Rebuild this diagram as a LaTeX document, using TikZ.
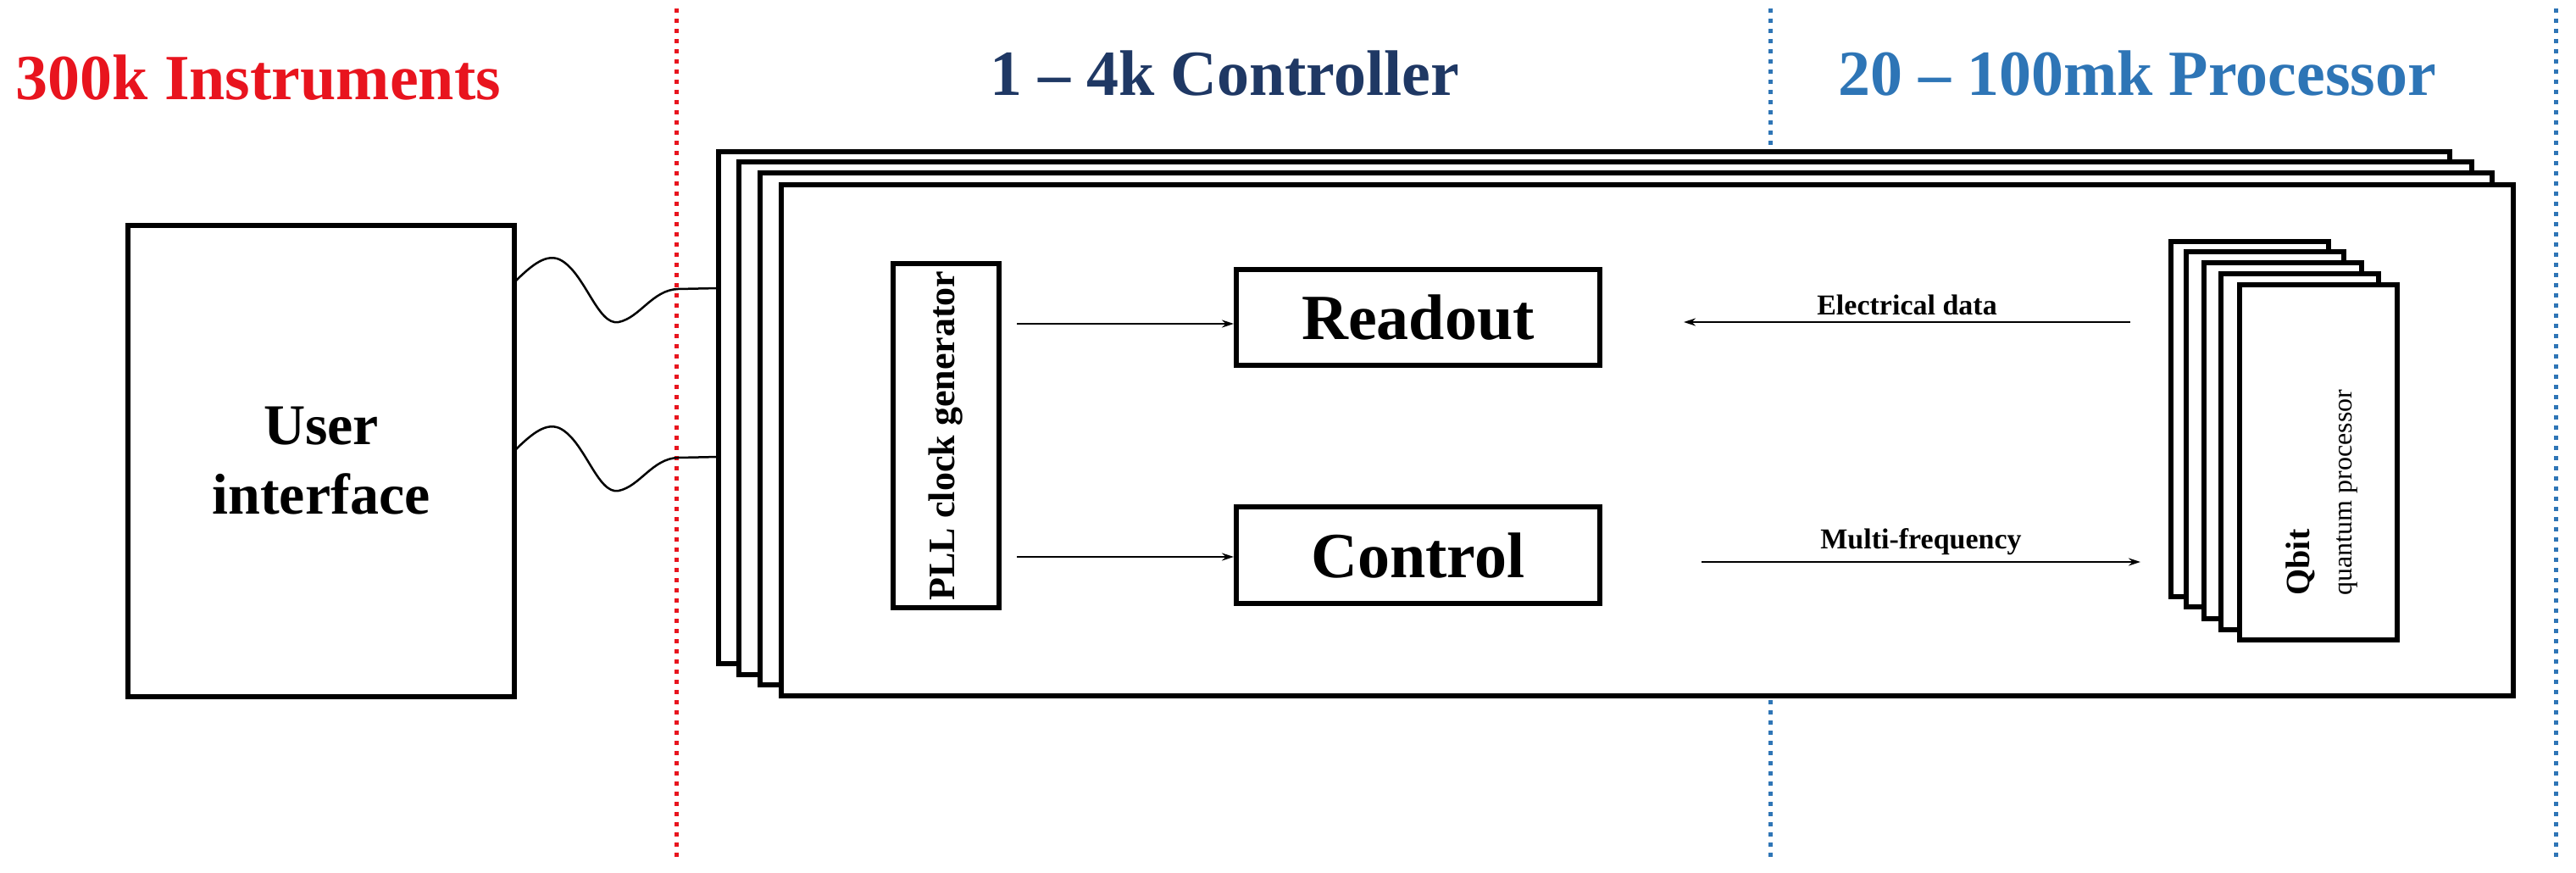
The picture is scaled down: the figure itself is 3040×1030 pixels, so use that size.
\documentclass[tikz,border=0pt]{standalone}
\usepackage{fontspec}
\setmainfont{Liberation Serif}
\usetikzlibrary{arrows.meta}
\definecolor{tred}{HTML}{E8141E}
\definecolor{tnavy}{HTML}{1F3864}
\definecolor{tblue}{HTML}{2E75B6}
\begin{document}
\begin{tikzpicture}[x=1pt,y=-1pt,
  box/.style={draw=black,line width=6pt,fill=white,inner sep=0pt},
  arr/.style={line width=2pt,-{Stealth[length=14pt,width=9pt]}},
  wire/.style={line width=2.5pt},
  ttl/.style={font=\fontsize{76}{80}\selectfont\bfseries},
  lbl/.style={font=\fontsize{34}{38}\selectfont\bfseries}]
\useasboundingbox (0,0) rectangle (3040,1030);
% dividers
\draw[tred,line width=5pt,dash pattern=on 5pt off 7pt] (798,10) -- (798,1015);
\draw[tblue,line width=5pt,dash pattern=on 5pt off 7pt] (2089,10) -- (2089,1015);
\draw[tblue,line width=5pt,dash pattern=on 5pt off 7pt] (3016,10) -- (3016,1015);
% titles
\node[ttl,text=tred] (t1) at (305,92) {300k Instruments};
\node[ttl,text=tnavy] (t2) at (1445,87) {1 -- 4k Controller};
\node[ttl,text=tblue] (t3) at (2522,87) {20 -- 100mk Processor};
% user interface
\node[box,minimum width=456pt,minimum height=556pt,align=center,
  font=\fontsize{68}{82}\selectfont\bfseries] (ui) at (379,544) {User\\interface};
% controller stack
\draw[box] (848,179) rectangle (2891,783);
\draw[box] (872,191) rectangle (2917,796);
\draw[box] (897,204) rectangle (2941,808);
\node[box,minimum width=2044pt,minimum height=603pt] (ctl) at (1944,519.5) {};
% PLL
\node[box,minimum width=406pt,minimum height=125pt,rotate=90,
  font=\fontsize{44}{48}\selectfont\bfseries] (pll) at (1116.5,514) {PLL clock generator};
\node[box,minimum width=429pt,minimum height=113pt,
  font=\fontsize{76}{80}\selectfont\bfseries] (ro) at (1673.5,374.5) {Readout};
\node[box,minimum width=429pt,minimum height=114pt,
  font=\fontsize{76}{80}\selectfont\bfseries] (co) at (1673.5,655) {Control};
% qbit stack
\draw[box] (2562,285) rectangle (2748,704);
\draw[box] (2580,297) rectangle (2766,716);
\draw[box] (2601,310) rectangle (2787,730);
\draw[box] (2621,323) rectangle (2807,743);
\node[box,minimum width=186pt,minimum height=419pt] (qb) at (2736,545.5) {};
\node[rotate=90,anchor=west,align=left,font=\fontsize{32}{50}\selectfont]
  (qt) at (2740,706) {\fontsize{40}{50}\selectfont\textbf{Qbit}\\quantum processor};
% arrows
\coordinate (p1) at (1200,382);
\coordinate (p2) at (1200,657);
\draw[arr] (p1) -- (ro.west |- p1);
\draw[arr] (p2) -- (co.west |- p2);
\coordinate (e1) at (2514,380);
\coordinate (e2) at (1987,380);
\draw[arr] (e1) -- (e2) node[lbl,midway,above=4pt] {Electrical data};
\coordinate (m1) at (2008,663);
\coordinate (m2) at (2526,663);
\draw[arr] (m1) -- (m2) node[lbl,midway,above=4pt] {Multi-frequency};
% wires
\coordinate (w1) at (607,333);
\coordinate (w1e) at (848,340);
\coordinate (w2) at (607,532);
\coordinate (w2e) at (848,539);
\draw[wire] (w1) .. controls (630,310) and (645,300) .. (660,306)
  .. controls (690,320) and (705,385) .. (730,380)
  .. controls (755,375) and (770,342) .. (800,341) -- (w1e);
\draw[wire] (w2) .. controls (630,509) and (645,499) .. (660,505)
  .. controls (690,519) and (705,584) .. (730,579)
  .. controls (755,574) and (770,541) .. (800,540) -- (w2e);
\end{tikzpicture}
\end{document}
